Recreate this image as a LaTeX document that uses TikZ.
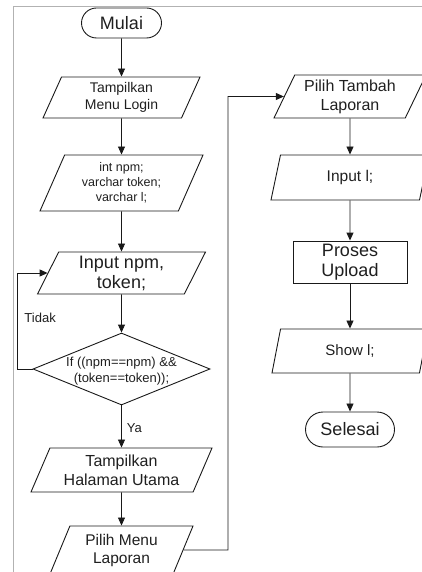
\documentclass[tikz,border=0pt]{standalone}
\usepackage{fontspec}
\setmainfont{Liberation Sans}
\usetikzlibrary{shapes.geometric,shapes.misc,arrows.meta,positioning,calc}
\newcommand\fsz[2]{\fontsize{#1pt}{#2pt}\selectfont}

\begin{document}
\begin{tikzpicture}[
	x=1pt,y=-1pt,
	line width=0.9pt,
	>={Triangle[length=8pt,width=7pt]},
	every node/.style={text=black!88},
	flow/.style={->,draw=black!90},
	term/.style={rounded rectangle,draw=black!90,minimum width=#1,inner sep=1pt},
	io/.style={trapezium,trapezium left angle=60,trapezium right angle=120,trapezium stretches body,draw=black!90,align=center,inner sep=1pt,minimum width=#1},
	proc/.style={rectangle,draw=black!90,align=center,inner sep=0pt},
	decision/.style={diamond,draw=black!90,inner sep=0pt,minimum width=177,minimum height=72},
	lbl/.style={font=\fsz{13}{15},inner sep=0pt},
]
\useasboundingbox (0,0) rectangle (422,572);
\draw[black!30,line width=1pt] (13,572) |- (422,7);

% kolom kiri
\node[term=82,minimum height=30,font=\fsz{18}{21}] (start) at (121.5,23) {Mulai};
\node[io=157,minimum height=41,font=\fsz{14}{17}] (menu) at (121.5,97.5) {Tampilkan\\Menu Login};
\node[io=163,minimum height=56,font=\fsz{12.5}{15}] (decl) at (121.5,183) {int npm;\\varchar token;\\varchar l;};
\node[io=168,minimum height=42,font=\fsz{18}{20}] (input) at (121.5,273) {Input npm,\\token;};
\node[decision] (cond) at (121.5,369) {};
\node[font=\fsz{13}{16},align=center,inner sep=0pt] (condtxt) at (121.5,371) {If ((npm==npm) \&\&\\(token==token));};
\node[io=181,minimum height=44,font=\fsz{16}{19}] (home) at (121.5,470) {Tampilkan\\Halaman Utama};
\node[io=143,minimum height=48,font=\fsz{15.5}{18}] (lapmenu) at (121.5,550) {Pilih Menu\\Laporan};

% kolom kanan
\node[io=152,minimum height=43,font=\fsz{16}{19}] (add) at (350,96.5) {Pilih Tambah\\Laporan};
\node[io=158,minimum height=45,font=\fsz{15.5}{18}] (inl) at (350,177.5) {Input l;};
\node[proc,minimum width=114,minimum height=42,font=\fsz{18}{19.5}] (upload) at (350,262) {Proses\\Upload};
\node[io=156,minimum height=44,font=\fsz{15}{18}] (show) at (350,351) {Show l;};
\node[term=91,minimum height=35,font=\fsz{18}{21}] (stop) at (350,429.5) {Selesai};

\coordinate (back) at (17,369);
\coordinate (turn) at (228,550);

\draw[flow] (start) -- (menu);
\draw[flow] (menu) -- (decl);
\draw[flow] (decl) -- (input);
\draw[flow] (input) -- (cond);
\draw[flow] (cond) -- (back) |- (input);
\node[lbl,anchor=west] (no) at (24,317.5) {Tidak};
\draw[flow] (cond) -- (home) node[lbl,pos=0.53,anchor=west,xshift=5pt] (yes) {Ya};
\draw[flow] (home) -- (lapmenu);
\draw[flow] (lapmenu) -- (turn) |- (add);
\draw[flow] (add) -- (inl);
\draw[flow] (inl) -- (upload);
\draw[flow] (upload) -- (show);
\draw[flow] (show) -- (stop);
\end{tikzpicture}
\end{document}
